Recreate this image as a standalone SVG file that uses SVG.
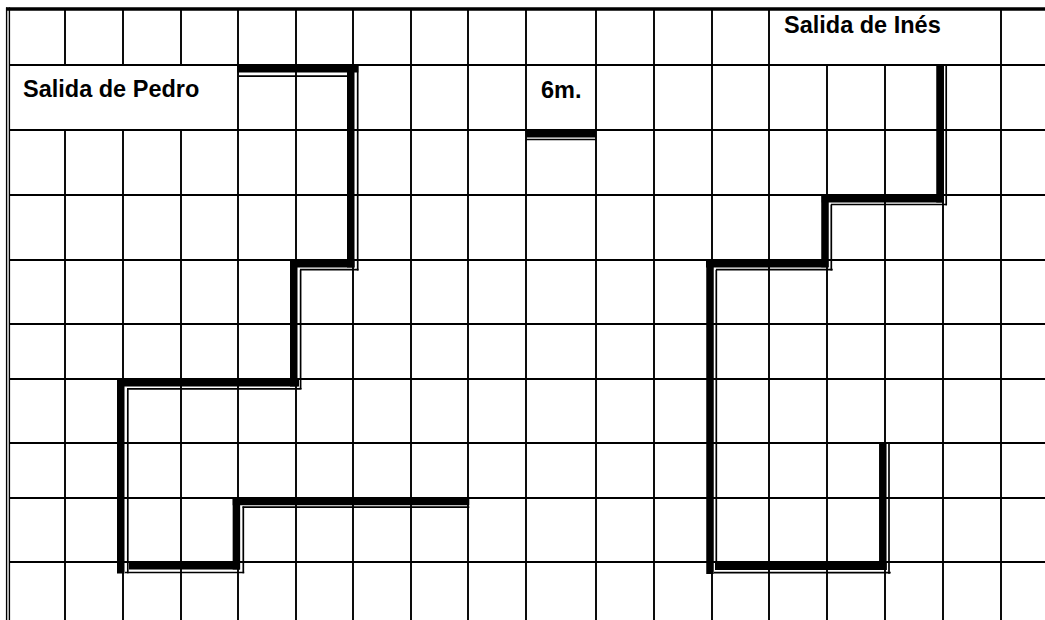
<svg xmlns="http://www.w3.org/2000/svg" width="1045" height="620" viewBox="0 0 1045 620">
<style>
.g{stroke:#000;stroke-width:1.9;fill:none}
.tk{stroke:#000;stroke-width:7.5;fill:none}
.tn{stroke:#000;stroke-width:1.7;fill:none}
.lbl{font-family:"Liberation Sans",Arial,sans-serif;font-weight:bold;font-size:23.5px;fill:#000}
</style>
<rect x="0" y="0" width="1045" height="620" fill="#fff"/>
<g id="grid">
<line class="g" x1="65" y1="9" x2="65" y2="65"/><line class="g" x1="65" y1="130" x2="65" y2="620"/>
<line class="g" x1="123" y1="9" x2="123" y2="65"/><line class="g" x1="123" y1="130" x2="123" y2="620"/>
<line class="g" x1="181" y1="9" x2="181" y2="65"/><line class="g" x1="181" y1="130" x2="181" y2="620"/>
<line class="g" x1="238" y1="9" x2="238" y2="620"/>
<line class="g" x1="296" y1="9" x2="296" y2="620"/>
<line class="g" x1="353" y1="9" x2="353" y2="620"/>
<line class="g" x1="411" y1="9" x2="411" y2="620"/>
<line class="g" x1="468" y1="9" x2="468" y2="620"/>
<line class="g" x1="526" y1="9" x2="526" y2="620"/>
<line class="g" x1="596" y1="9" x2="596" y2="620"/>
<line class="g" x1="654" y1="9" x2="654" y2="620"/>
<line class="g" x1="712" y1="9" x2="712" y2="620"/>
<line class="g" x1="769" y1="9" x2="769" y2="620"/>
<line class="g" x1="827" y1="65" x2="827" y2="620"/>
<line class="g" x1="885" y1="65" x2="885" y2="620"/>
<line class="g" x1="943" y1="65" x2="943" y2="620"/>
<line class="g" x1="1001" y1="9" x2="1001" y2="620"/>
<line class="g" x1="9" y1="65" x2="1045" y2="65"/>
<line class="g" x1="9" y1="130" x2="1045" y2="130"/>
<line class="g" x1="9" y1="195" x2="1045" y2="195"/>
<line class="g" x1="9" y1="260" x2="1045" y2="260"/>
<line class="g" x1="9" y1="324" x2="1045" y2="324"/>
<line class="g" x1="9" y1="379" x2="1045" y2="379"/>
<line class="g" x1="9" y1="443" x2="1045" y2="443"/>
<line class="g" x1="9" y1="498" x2="1045" y2="498"/>
<line class="g" x1="9" y1="562" x2="1045" y2="562"/>
<line stroke="#000" stroke-width="3.6" x1="6" y1="9" x2="1045" y2="9"/>
<line stroke="#000" stroke-width="1.4" x1="6.6" y1="7.5" x2="6.6" y2="620"/>
<line stroke="#000" stroke-width="1.4" x1="9.4" y1="7.5" x2="9.4" y2="620"/>
</g>
<g id="label-pedro"><text class="lbl" x="23" y="97">Salida de Pedro</text></g>
<g id="label-6m"><text class="lbl" x="541" y="98">6m.</text></g>
<g id="label-ines"><text class="lbl" x="784" y="33">Salida de Inés</text></g>
<g id="connectors">
<g id="path-pedro">
<line class="tk" x1="237.3" y1="68.75" x2="358.3" y2="68.75"/>
<line class="tk" x1="350.75" y1="65" x2="350.75" y2="267.5"/>
<line class="tk" x1="290" y1="263.75" x2="354.5" y2="263.75"/>
<line class="tk" x1="293.75" y1="260" x2="293.75" y2="386.5"/>
<line class="tk" x1="117" y1="382.75" x2="299" y2="382.75"/>
<line class="tk" x1="120.75" y1="379" x2="120.75" y2="573.5"/>
<line class="tk" x1="129" y1="565.75" x2="240" y2="565.75"/>
<line class="tk" x1="236.4" y1="497.7" x2="236.4" y2="569.5"/>
<line class="tk" x1="232.7" y1="501.5" x2="469.3" y2="501.5"/>
<line class="tn" x1="239" y1="76.2" x2="347" y2="76.2"/>
<line class="tn" x1="357.7" y1="65" x2="357.7" y2="270.5"/>
<line class="tn" x1="300" y1="269.7" x2="358.5" y2="269.7"/>
<line class="tn" x1="300.6" y1="269.7" x2="300.6" y2="389"/>
<line class="tn" x1="127" y1="388.8" x2="301.5" y2="388.8"/>
<line class="tn" x1="127.8" y1="388.8" x2="127.8" y2="573.3"/>
<line class="tn" x1="125" y1="572.5" x2="244.2" y2="572.5"/>
<line class="tn" x1="243.3" y1="506.5" x2="243.3" y2="573.3"/>
<line class="tn" x1="242.5" y1="507.2" x2="469.3" y2="507.2"/>
</g>
<g id="segment-6m">
<line class="tk" x1="526" y1="133.7" x2="596" y2="133.7"/>
<line class="tn" x1="526" y1="139.5" x2="596" y2="139.5"/>
</g>
<g id="path-ines">
<line class="tk" x1="940" y1="65" x2="940" y2="202.5"/>
<line class="tk" x1="821.7" y1="198.75" x2="943.3" y2="198.75"/>
<line class="tk" x1="825" y1="195" x2="825" y2="267.3"/>
<line class="tk" x1="706" y1="263.7" x2="828.3" y2="263.7"/>
<line class="tk" x1="710" y1="260" x2="710" y2="574"/>
<line class="tk" x1="715" y1="566.2" x2="886.7" y2="566.2"/>
<line class="tk" x1="882.8" y1="444" x2="882.8" y2="570"/>
<line class="tn" x1="946.2" y1="65" x2="946.2" y2="205.3"/>
<line class="tn" x1="831" y1="204.5" x2="947" y2="204.5"/>
<line class="tn" x1="831.3" y1="204.5" x2="831.3" y2="270.5"/>
<line class="tn" x1="716" y1="269.7" x2="832.7" y2="269.7"/>
<line class="tn" x1="716.3" y1="269.7" x2="716.3" y2="570"/>
<line class="tn" x1="714" y1="572.7" x2="890.7" y2="572.7"/>
<line class="tn" x1="889" y1="444" x2="889" y2="573.7"/>
</g>
</g>
</svg>
